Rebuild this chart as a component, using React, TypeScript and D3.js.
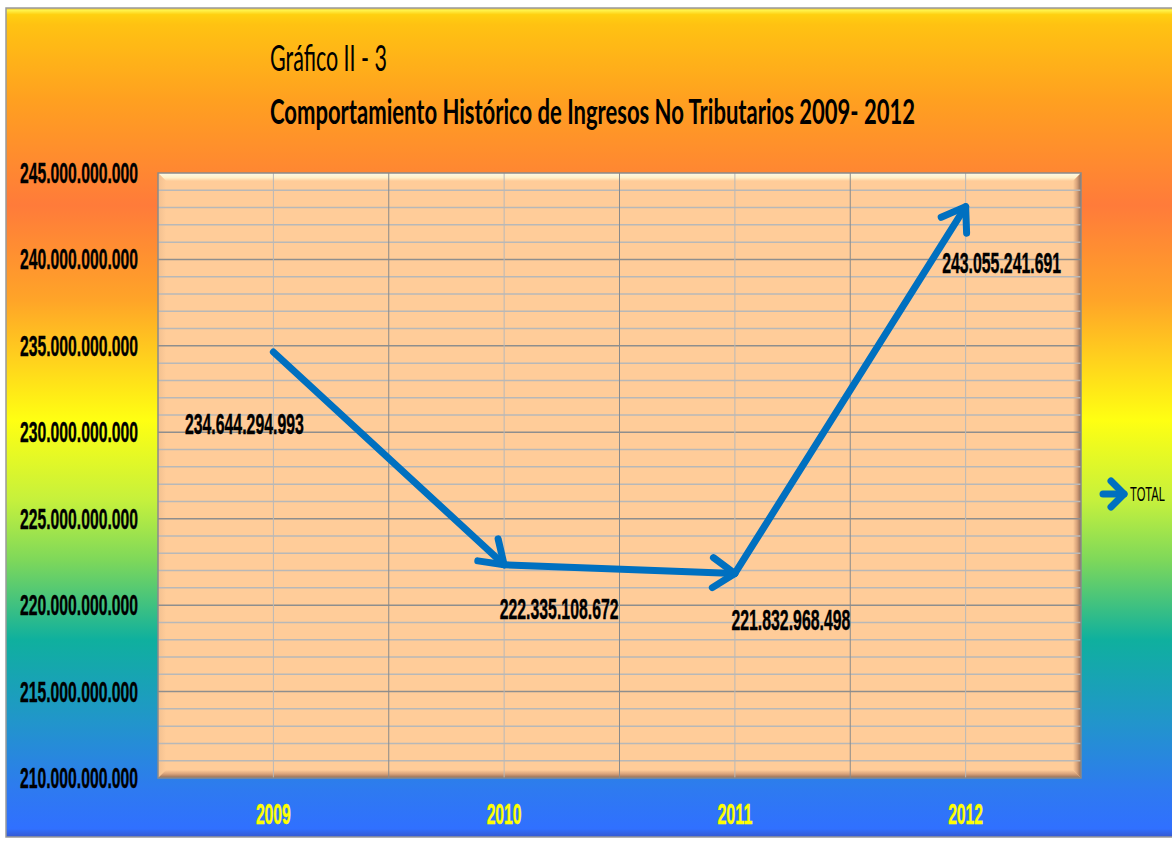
import React from 'react';
import * as d3 from 'd3';

// chart values
const years = ['2009', '2010', '2011', '2012'];
const totals = [234644294993, 222335108672, 221832968498, 243055241691];
const yTicks = [210e9, 215e9, 220e9, 225e9, 230e9, 235e9, 240e9, 245e9];
const seriesName = 'TOTAL';
const titleLine1 = 'Gráfico II - 3';
const titleLine2 = 'Comportamiento Histórico de Ingresos No Tributarios 2009- 2012';

// where each data label sits relative to its point (dx, dy to baseline)
const labelOffsets = [[-29, 82], [55, 54], [56, 57], [36, 66]];

const W = 1172, H = 841;
const frame = { x: 6, y: 8, w: 1172, h: 829 };
const plot = { left: 158, top: 173, right: 1081, bottom: 778 };

const numFont = '"Liberation Sans Narrow", "Liberation Sans", Arial, sans-serif';
const titleFont = 'Lato, "Open Sans", sans-serif';

const fmt = d3.formatLocale({ decimal: ',', thousands: '.', grouping: [3], currency: ['$', ''] }).format(',d');

const bgStops: [number, string][] = [
  [0, '#E8C040'], [0.003, '#FFF24A'], [0.008, '#FFD010'], [0.02, '#FFC212'],
  [0.111, '#FFA020'], [0.238, '#FF7B3A'], [0.352, '#FFA428'], [0.497, '#FFFF12'],
  [0.593, '#C6F13C'], [0.666, '#7ED85A'], [0.762, '#0FB09E'], [0.859, '#2196CA'],
  [0.943, '#2E7AF0'], [0.99, '#3070FF'], [1, '#3558D0'],
];

export default function App() {
  const x = d3.scaleBand<string>().domain(years).range([plot.left, plot.right]).padding(0);
  const y = d3.scaleLinear().domain([yTicks[0], yTicks[yTicks.length - 1]]).range([plot.bottom, plot.top]);
  const cx = (yr: string) => (x(yr) as number) + x.bandwidth() / 2;
  const minor = d3.range(yTicks[0], yTicks[yTicks.length - 1], 1e9).filter(v => v % 5e9 !== 0);
  const pts = years.map((yr, i) => [cx(yr), y(totals[i])]);
  const bv = 8; // bevel width

  return (
    <svg width={W} height={H} style={{ position: 'absolute', left: 0, top: 0, background: '#fff' }}>
      <defs>
        <linearGradient id="bg" x1="0" y1="0" x2="0" y2="1">
          {bgStops.map(([o, c], i) => <stop key={i} offset={o} stopColor={c} />)}
        </linearGradient>
        <linearGradient id="bevTop" x1="0" y1="0" x2="0" y2="1">
          <stop offset="0" stopColor="#FFFBE6" />
          <stop offset="0.6" stopColor="#FFF0C8" />
          <stop offset="1" stopColor="#FFCC99" />
        </linearGradient>
        <linearGradient id="bevBot" x1="0" y1="0" x2="0" y2="1">
          <stop offset="0" stopColor="#FFCC99" />
          <stop offset="0.5" stopColor="#D8A27A" />
          <stop offset="1" stopColor="#8E6A55" />
        </linearGradient>
        <linearGradient id="bevRight" x1="0" y1="0" x2="1" y2="0">
          <stop offset="0" stopColor="#FFCC99" />
          <stop offset="0.5" stopColor="#D8A27A" />
          <stop offset="1" stopColor="#8E6A55" />
        </linearGradient>
        <linearGradient id="bevLeft" x1="0" y1="0" x2="1" y2="0">
          <stop offset="0" stopColor="#F2C090" />
          <stop offset="1" stopColor="#FFCC99" />
        </linearGradient>
        <marker id="arrow" markerUnits="userSpaceOnUse" markerWidth="40" markerHeight="40"
          viewBox="-30 -20 40 40" refX="0" refY="0" orient="auto" style={{ overflow: 'visible' }}>
          <path d="M-22,-15 L0,0 L-22,15" fill="none" stroke="#0070C0" strokeWidth={7}
            strokeLinecap="round" strokeLinejoin="round" />
        </marker>
        <marker id="arrowLeg" markerUnits="userSpaceOnUse" markerWidth="30" markerHeight="30"
          viewBox="-20 -15 30 30" refX="0" refY="0" orient="auto" style={{ overflow: 'visible' }}>
          <path d="M-13,-13 L0,0 L-13,13" fill="none" stroke="#0070C0" strokeWidth={7}
            strokeLinecap="round" strokeLinejoin="round" />
        </marker>
      </defs>

      {/* chart frame */}
      <rect x={frame.x} y={frame.y} width={frame.w} height={frame.h} fill="url(#bg)" stroke="#9A9A9A" strokeWidth={1.5} />

      {/* titles */}
      <text x={270} y={71} fontFamily={titleFont} fontSize={37} fill="#000"
        textLength={117} lengthAdjust="spacingAndGlyphs">{titleLine1}</text>
      <text x={270} y={124} fontFamily={titleFont} fontWeight="bold" fontSize={35} fill="#000"
        textLength={645} lengthAdjust="spacingAndGlyphs">{titleLine2}</text>

      {/* plot area with bevel */}
      <rect x={plot.left} y={plot.top} width={plot.right - plot.left} height={plot.bottom - plot.top} fill="#FFCC99" />
      <polygon points={`${plot.left},${plot.top} ${plot.right},${plot.top} ${plot.right - bv},${plot.top + bv} ${plot.left + bv},${plot.top + bv}`} fill="url(#bevTop)" />
      <polygon points={`${plot.left},${plot.top} ${plot.left + bv},${plot.top + bv} ${plot.left + bv},${plot.bottom - bv} ${plot.left},${plot.bottom}`} fill="url(#bevLeft)" />
      <polygon points={`${plot.right},${plot.top} ${plot.right},${plot.bottom} ${plot.right - bv},${plot.bottom - bv} ${plot.right - bv},${plot.top + bv}`} fill="url(#bevRight)" />
      <polygon points={`${plot.left},${plot.bottom} ${plot.right},${plot.bottom} ${plot.right - bv},${plot.bottom - bv} ${plot.left + bv},${plot.bottom - bv}`} fill="url(#bevBot)" />

      {/* gridlines */}
      {minor.map(v => (
        <line key={'m' + v} x1={plot.left} x2={plot.right} y1={y(v)} y2={y(v)} stroke="#B8B8B8" strokeWidth={1.5} />
      ))}
      {yTicks.slice(1, -1).map(v => (
        <line key={'M' + v} x1={plot.left} x2={plot.right} y1={y(v)} y2={y(v)} stroke="#8E8E8E" strokeWidth={1.5} />
      ))}
      {years.map(yr => (
        <line key={'c' + yr} x1={cx(yr)} x2={cx(yr)} y1={plot.top} y2={plot.bottom} stroke="#B8B8B8" strokeWidth={1} />
      ))}
      {years.slice(1).map(yr => (
        <line key={'b' + yr} x1={x(yr)} x2={x(yr)} y1={plot.top} y2={plot.bottom} stroke="#8A8A8A" strokeWidth={1} />
      ))}
      <rect x={plot.left} y={plot.top} width={plot.right - plot.left} height={plot.bottom - plot.top}
        fill="none" stroke="#8A8A8A" strokeWidth={1.5} />

      {/* y axis labels */}
      {yTicks.map(v => (
        <text key={'y' + v} x={138} y={y(v) + 10} textAnchor="end" fontFamily={numFont} fontWeight="bold"
          fontSize={29} fill="#000" stroke="#000" strokeWidth={0.4}
          textLength={118} lengthAdjust="spacingAndGlyphs">{fmt(v)}</text>
      ))}

      {/* x axis labels */}
      {years.map(yr => (
        <text key={'x' + yr} x={cx(yr)} y={824} textAnchor="middle" fontFamily={numFont} fontWeight="bold"
          fontSize={29} fill="#FFFF00" stroke="#FFFF00" strokeWidth={0.4}
          textLength={35} lengthAdjust="spacingAndGlyphs">{yr}</text>
      ))}

      {/* series: each segment ends in an open arrow */}
      {pts.slice(1).map((p, i) => (
        <line key={'s' + i} x1={pts[i][0]} y1={pts[i][1]} x2={p[0]} y2={p[1]} stroke="#0070C0"
          strokeWidth={7} strokeLinecap="round" markerEnd="url(#arrow)" />
      ))}

      {/* data labels */}
      {pts.map((p, i) => (
        <text key={'l' + i} x={p[0] + labelOffsets[i][0]} y={p[1] + labelOffsets[i][1]} textAnchor="middle"
          fontFamily={numFont} fontWeight="bold" fontSize={29} fill="#000" stroke="#000" strokeWidth={0.4}
          textLength={119} lengthAdjust="spacingAndGlyphs">{fmt(totals[i])}</text>
      ))}

      {/* legend */}
      <line x1={1103} y1={494} x2={1124} y2={494} stroke="#0070C0" strokeWidth={7} strokeLinecap="round" markerEnd="url(#arrowLeg)" />
      <text x={1130} y={501} fontFamily={numFont} fontSize={20} fill="#000" textLength={35}
        lengthAdjust="spacingAndGlyphs">{seriesName}</text>
    </svg>
  );
}
